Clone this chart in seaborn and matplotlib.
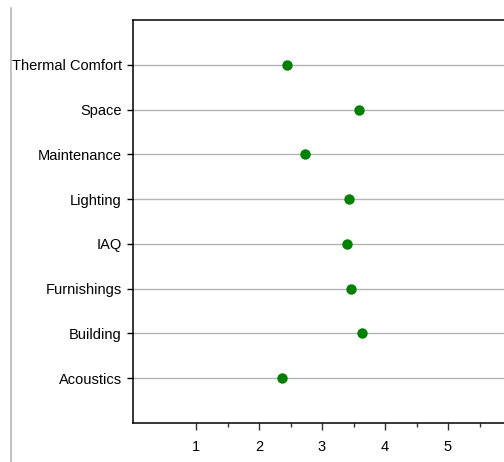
import matplotlib
matplotlib.use("Agg")
import matplotlib.pyplot as plt
import numpy as np
import pandas as pd
import seaborn as sns
from matplotlib.lines import Line2D

# Data
categories = ['Thermal Comfort', 'Space', 'Maintenance', 'Lighting',
              'IAQ', 'Furnishings', 'Building', 'Acoustics']
scores = [2.44, 3.59, 2.73, 3.43, 3.40, 3.46, 3.63, 2.37]
x_ticks = [1, 2, 3, 4, 5]


def make_chart():
    sns.set_style("white")
    plt.rcParams['font.family'] = ['Liberation Sans', 'DejaVu Sans']

    df = pd.DataFrame({'Category': categories, 'Score': scores})

    fig = plt.figure(figsize=(5.04, 4.62), dpi=100)
    ax = fig.add_axes([133 / 504, 39 / 462, 378 / 504, 403 / 462])

    sns.stripplot(data=df, x='Score', y='Category', order=categories,
                  jitter=False, color='#008000', size=7.5, linewidth=0,
                  ax=ax, zorder=3)

    ax.set_xlim(0, 6)
    ax.set_ylim(len(categories), -1)
    ax.set_xticks(x_ticks)
    ax.set_xticklabels([str(t) for t in x_ticks])
    ax.set_xticks([t + 0.5 for t in x_ticks], minor=True)
    ax.set_xlabel('')
    ax.set_ylabel('')

    ax.yaxis.grid(True, color='#b4b4b4', linewidth=1)
    ax.xaxis.grid(False)
    ax.set_axisbelow(True)

    for side in ['left', 'bottom', 'top', 'right']:
        ax.spines[side].set_visible(True)
        ax.spines[side].set_color('black')
        ax.spines[side].set_linewidth(1.1)

    ax.tick_params(axis='x', which='both', bottom=True)
    ax.tick_params(axis='x', which='major', direction='out', length=5,
                   width=1, color='#333333', labelsize=10.5, pad=7,
                   labelcolor='black')
    ax.tick_params(axis='x', which='minor', direction='out', length=3,
                   width=1, color='#333333')
    ax.tick_params(axis='y', which='major', left=True, direction='out',
                   length=4, width=1, color='black', labelsize=10.5, pad=4,
                   labelcolor='black')

    # light vertical rule at the far left
    fig.add_artist(Line2D([11 / 504, 11 / 504], [0, 1 - 8 / 462],
                          transform=fig.transFigure, color='#c4c4c4',
                          linewidth=1.5))

    fig.savefig('out.png', dpi=100)
    plt.close(fig)


if __name__ == "__main__":
    make_chart()
